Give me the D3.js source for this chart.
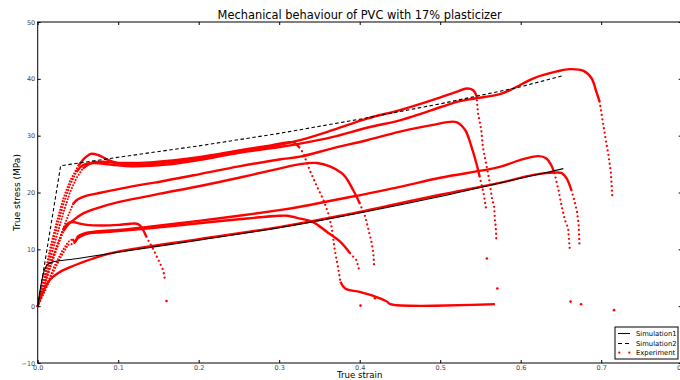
<!DOCTYPE html>
<html>
<head>
<meta charset="utf-8">
<script src="https://cdn.jsdelivr.net/npm/d3@7"></script>
<style>
  body { margin: 0; background: #fff; }
  svg { display: block; }
  text { font-family: "DejaVu Sans", sans-serif; }
</style>
</head>
<body>
<svg id="chart" width="680" height="380"></svg>
<script>
// ---- Axis ticks ----
const xTicks = [0, 0.1, 0.2, 0.3, 0.4, 0.5, 0.6, 0.7, 0.8];
const xTickLabels = ["0.0", "0.1", "0.2", "0.3", "0.4", "0.5", "0.6", "0.7", "0.8"];
const yTicks = [-10, 0, 10, 20, 30, 40, 50];
const yTickLabels = ["\u221210", "0", "10", "20", "30", "40", "50"];

// ---- Simulations: [true strain, true stress (MPa)] ----
const simulation1 = [[0,0],[0.004,3.6],[0.008,6.2],[0.012,7.3],[0.018,7.75],[0.05,8.4],[0.1,9.5],
  [0.2,11.6],[0.3,13.8],[0.4,16.4],[0.5,19.3],[0.6,22.5],[0.653,24.2]];
const simulation2 = [[0,0],[0.0285,24.7],[0.1,26.2],[0.2,28.2],[0.3,30.4],[0.4,32.9],[0.5,35.6],
  [0.6,38.6],[0.651,40.5]];

// ---- Experiments: loading, plastic flow, failure drop, last recorded point ----
const expA_load = [[0,0],[0.008,4.5],[0.016,9.5],[0.024,14],[0.032,18],[0.04,21.3],[0.048,23.6]];
const expA_flow = [[0.048,23.6],[0.056,24.8],[0.07,25.2],[0.09,24.9],[0.12,24.6],[0.16,24.9],[0.2,25.7],
  [0.25,27.0],[0.3,28.0],[0.326,28.6],[0.367,29.8],[0.409,31.4],[0.45,32.7],[0.475,33.8],[0.5,35.0],
  [0.52,35.9],[0.541,36.5],[0.574,37.3],[0.591,38.3],[0.616,40.1],[0.645,41.3],[0.661,41.7],
  [0.678,41.4],[0.688,40.1],[0.694,37.7],[0.698,36.0]];
const expA_drop = [[0.698,36.0],[0.702,32.4],[0.706,29],[0.709,26.6],[0.712,23.5],[0.714,18.8]];
const expA_end = [[0.716,-0.7]];

const expB_load = [[0,0],[0.008,5],[0.016,10.5],[0.024,15],[0.032,19],[0.04,22],[0.05,24.6]];
const expB_flow = [[0.05,24.6],[0.058,26.0],[0.066,26.8],[0.075,26.6],[0.088,25.7],[0.105,25.0],
  [0.14,25.0],[0.2,26.0],[0.25,27.3],[0.3,28.4],[0.326,29.2],[0.367,31.0],[0.409,33.0],[0.45,34.5],
  [0.491,36.3],[0.52,37.7],[0.533,38.3],[0.541,38.0],[0.545,37.0]];
const expB_drop = [[0.545,37.0],[0.547,33.9],[0.551,31.0],[0.553,28.0],[0.557,25.1],[0.561,22.2],
  [0.564,19.2],[0.567,17.5],[0.568,15.1],[0.569,14.0],[0.570,11.2]];
const expB_end = [[0.571,3.1]];

const expC_load = [[0,0],[0.008,4],[0.016,8.5],[0.024,12.5],[0.032,16.5],[0.04,20],[0.048,22.5],[0.056,24.2]];
const expC_flow = [[0.056,24.2],[0.065,25.1],[0.08,25.4],[0.1,25.2],[0.14,25.3],[0.2,26.2],[0.25,27.4],
  [0.29,28.3],[0.31,28.8],[0.318,28.8],[0.325,27.9]];
const expC_drop = [[0.325,27.9],[0.33,26.9],[0.338,23.9],[0.347,21.0],[0.355,18.7],[0.361,16.3],
  [0.365,14.0],[0.369,9.9],[0.373,6.9],[0.376,4.3]];
const expC_residual = [[0.376,4.3],[0.382,3.1],[0.4,2.5],[0.421,1.6],[0.434,0.8],[0.438,0.35],[0.568,0.35]];

const expD_load = [[0,0],[0.01,4.5],[0.02,9],[0.03,13],[0.038,16],[0.044,18.0]];
const expD_flow = [[0.044,18.0],[0.05,18.8],[0.06,19.4],[0.073,19.8],[0.1,20.6],[0.139,21.6],
  [0.152,21.9],[0.2,23.2],[0.25,24.6],[0.3,25.8],[0.326,26.3],[0.367,27.8],[0.409,29.2],[0.45,30.7],
  [0.491,31.9],[0.52,32.4],[0.531,31.0],[0.539,28.0],[0.545,25.1],[0.549,22.8]];
const expD_drop = [[0.549,22.8],[0.552,21.0],[0.554,19.8],[0.557,17.2]];
const expD_end = [[0.558,8.4]];

const expE_load = [[0,0],[0.008,3.5],[0.016,7],[0.024,10.2],[0.032,13.2]];
const expE_flow = [[0.032,13.2],[0.038,14.4],[0.044,15.1],[0.055,16.2],[0.073,17.2],[0.1,18.3],
  [0.139,19.4],[0.152,19.8],[0.2,21.1],[0.25,22.6],[0.3,24.2],[0.326,25.0],[0.347,25.2],[0.363,24.6],
  [0.38,23.1],[0.392,20.4],[0.4,18.1]];
const expE_drop = [[0.4,18.1],[0.407,15.7],[0.411,13.4],[0.415,11.0],[0.417,9.3],[0.418,6.8]];
const expE_end = [[0.419,1.4]];

const expF_load = [[0,0],[0.008,3.8],[0.016,7.5],[0.024,10.8],[0.032,13.6]];
const expF_flow = [[0.032,13.6],[0.038,14.6],[0.044,14.8],[0.05,14.6],[0.061,14.3],[0.08,14.2],
  [0.1,14.3],[0.115,14.5],[0.123,14.5],[0.127,14.2],[0.131,13.4],[0.135,12.2]];
const expF_drop = [[0.135,12.2],[0.14,10.9],[0.144,9.9],[0.148,8.7],[0.152,7.5],[0.156,6.3],[0.158,4.7]];
const expF_end = [[0.16,0.9]];

const expG_load = [[0,0],[0.01,3.3],[0.02,6.8],[0.03,9.6],[0.038,11.3],[0.043,11.8]];
const expG_flow = [[0.043,11.8],[0.047,11.4],[0.05,12.3],[0.058,12.8],[0.07,13.1],[0.1,13.4],
  [0.139,14.0],[0.2,15.0],[0.25,15.9],[0.3,16.9],[0.326,17.5],[0.388,19.2],[0.45,21.0],[0.5,22.6],
  [0.574,24.5],[0.599,25.7],[0.622,26.4],[0.632,26.0],[0.638,24.8],[0.642,23.4]];
const expG_drop = [[0.642,23.4],[0.647,20.4],[0.651,17.5],[0.655,15.1],[0.659,13.7],[0.66,11.7],[0.661,10.0]];
const expG_end = [[0.662,0.8]];

const expH_load = [[0,0],[0.01,3.0],[0.02,6.2],[0.03,9.0],[0.038,10.8],[0.045,11.0]];
const expH_flow = [[0.045,11.0],[0.05,12.0],[0.06,12.7],[0.08,13.0],[0.1,13.2],[0.139,13.7],
  [0.2,14.6],[0.25,15.3],[0.3,15.9],[0.31,15.9],[0.326,15.4],[0.342,14.8],[0.359,13.1],[0.376,11.3],[0.388,9.3]];
const expH_drop = [[0.388,9.3],[0.396,8.1],[0.4,6.0]];
const expH_end = [[0.401,0.1]];

const expI_load = [];
const expI_flow = [[0,0],[0.005,2],[0.01,3.5],[0.015,4.6],[0.025,5.8],[0.036,6.6],[0.057,7.8],
  [0.08,8.9],[0.1,9.6],[0.2,11.8],[0.3,13.9],[0.376,15.9],[0.45,18.1],[0.5,19.6],[0.574,21.7],
  [0.616,23.1],[0.643,23.5],[0.651,23.4],[0.657,22.5],[0.663,20.4]];
const expI_drop = [[0.663,20.4],[0.667,18.4],[0.67,16.6],[0.672,14.3],[0.673,11.0]];
const expI_end = [[0.675,0.35]];

const legendLabels = ["Simulation1", "Simulation2", "Experiment"];

// ---- Layout ----
const svg = d3.select("#chart");
const x = d3.scaleLinear().domain([0, 0.8]).range([37.7, 681.7]);
const y = d3.scaleLinear().domain([-10, 50]).range([363, 22]);
const RED = "#ff0000";

const experiments = [
  {load: expA_load, flow: expA_flow, drop: expA_drop, end: expA_end},
  {load: expB_load, flow: expB_flow, drop: expB_drop, end: expB_end},
  {load: expC_load, flow: expC_flow, drop: expC_drop, end: [], residual: expC_residual},
  {load: expD_load, flow: expD_flow, drop: expD_drop, end: expD_end},
  {load: expE_load, flow: expE_flow, drop: expE_drop, end: expE_end},
  {load: expF_load, flow: expF_flow, drop: expF_drop, end: expF_end},
  {load: expG_load, flow: expG_flow, drop: expG_drop, end: expG_end},
  {load: expH_load, flow: expH_flow, drop: expH_drop, end: expH_end},
  {load: expI_load, flow: expI_flow, drop: expI_drop, end: expI_end}
];

const smooth = d3.line().x(d => x(d[0])).y(d => y(d[1])).curve(d3.curveCatmullRom.alpha(0.5));
const straight = d3.line().x(d => x(d[0])).y(d => y(d[1]));

// Frame
svg.append("rect")
  .attr("x", x(0)).attr("y", y(50))
  .attr("width", x(0.8) - x(0)).attr("height", y(-10) - y(50))
  .attr("fill", "#fff").attr("stroke", "#000").attr("stroke-width", 1);

// Experimental curves
const expG = svg.append("g");
experiments.forEach(e => {
  if (e.load.length) {
    expG.append("path").attr("d", straight(e.load))
      .attr("fill", "none").attr("stroke", RED).attr("stroke-width", 2.1)
      .attr("stroke-linecap", "round").attr("stroke-dasharray", "0 3");
  }
  expG.append("path").attr("d", smooth(e.flow))
    .attr("fill", "none").attr("stroke", RED).attr("stroke-width", 2.4)
    .attr("stroke-linejoin", "round");
  expG.append("path").attr("d", straight(e.drop))
    .attr("fill", "none").attr("stroke", RED).attr("stroke-width", 2.3)
    .attr("stroke-linecap", "round").attr("stroke-dasharray", "0 4.5");
  if (e.residual) {
    expG.append("path").attr("d", smooth(e.residual))
      .attr("fill", "none").attr("stroke", RED).attr("stroke-width", 2.3);
  }
  e.end.forEach(p => {
    expG.append("circle").attr("cx", x(p[0])).attr("cy", y(p[1])).attr("r", 1.3).attr("fill", RED);
  });
});

// Simulations
svg.append("path").attr("d", smooth(simulation1))
  .attr("fill", "none").attr("stroke", "#000").attr("stroke-width", 1.1);
svg.append("path").attr("d", straight(simulation2))
  .attr("fill", "none").attr("stroke", "#000").attr("stroke-width", 1.1)
  .attr("stroke-dasharray", "3.5 2.5");

// Axes with inward ticks on all four sides
function styleAxis(g) {
  g.select(".domain").remove();
  g.selectAll(".tick line").attr("stroke", "#000");
  g.selectAll(".tick text").attr("fill", "#444").style("font-size", "6.5px")
    .style("font-family", "'DejaVu Sans', sans-serif");
}
svg.append("g").attr("transform", `translate(0,${y(-10)})`)
  .call(d3.axisBottom(x).tickValues(xTicks).tickFormat((d, i) => xTickLabels[i]).tickSize(-3).tickPadding(2))
  .call(styleAxis);
svg.append("g").attr("transform", `translate(0,${y(50)})`)
  .call(d3.axisTop(x).tickValues(xTicks).tickFormat("").tickSize(-3))
  .call(styleAxis);
svg.append("g").attr("transform", `translate(${x(0)},0)`)
  .call(d3.axisLeft(y).tickValues(yTicks).tickFormat((d, i) => yTickLabels[i]).tickSize(-3).tickPadding(2.5))
  .call(styleAxis);
svg.append("g").attr("transform", `translate(${x(0.8)},0)`)
  .call(d3.axisRight(y).tickValues(yTicks).tickFormat("").tickSize(-3))
  .call(styleAxis);

// Titles
svg.append("text").attr("x", (x(0) + x(0.8)) / 2).attr("y", 19)
  .attr("text-anchor", "middle").style("font-size", "11.4px").attr("fill", "#000")
  .text("Mechanical behaviour of PVC with 17% plasticizer");
svg.append("text").attr("x", (x(0) + x(0.8)) / 2).attr("y", 378.3)
  .attr("text-anchor", "middle").style("font-size", "8.6px").attr("fill", "#000")
  .text("True strain");
svg.append("text")
  .attr("transform", `translate(20,${(y(-10) + y(50)) / 2}) rotate(-90)`)
  .attr("text-anchor", "middle").style("font-size", "9px").attr("fill", "#000")
  .text("True stress (MPa)");

// Legend
const lg = svg.append("g").attr("transform", "translate(615,327)");
lg.append("rect").attr("x", 0).attr("y", 0).attr("width", 63).attr("height", 32)
  .attr("fill", "#fff").attr("stroke", "#000").attr("stroke-width", 1);
lg.append("line").attr("x1", 3).attr("x2", 15).attr("y1", 6.5).attr("y2", 6.5)
  .attr("stroke", "#000").attr("stroke-width", 1);
lg.append("line").attr("x1", 3).attr("x2", 15).attr("y1", 16.5).attr("y2", 16.5)
  .attr("stroke", "#000").attr("stroke-width", 1).attr("stroke-dasharray", "4 3");
[4.3, 14.3].forEach(cx => lg.append("circle").attr("cx", cx).attr("cy", 25.7).attr("r", 1.1).attr("fill", RED));
legendLabels.forEach((t, i) => {
  lg.append("text").attr("x", 21).attr("y", 9 + i * 9.7).style("font-size", "6.8px")
    .attr("fill", "#000").text(t);
});
</script>
</body>
</html>
